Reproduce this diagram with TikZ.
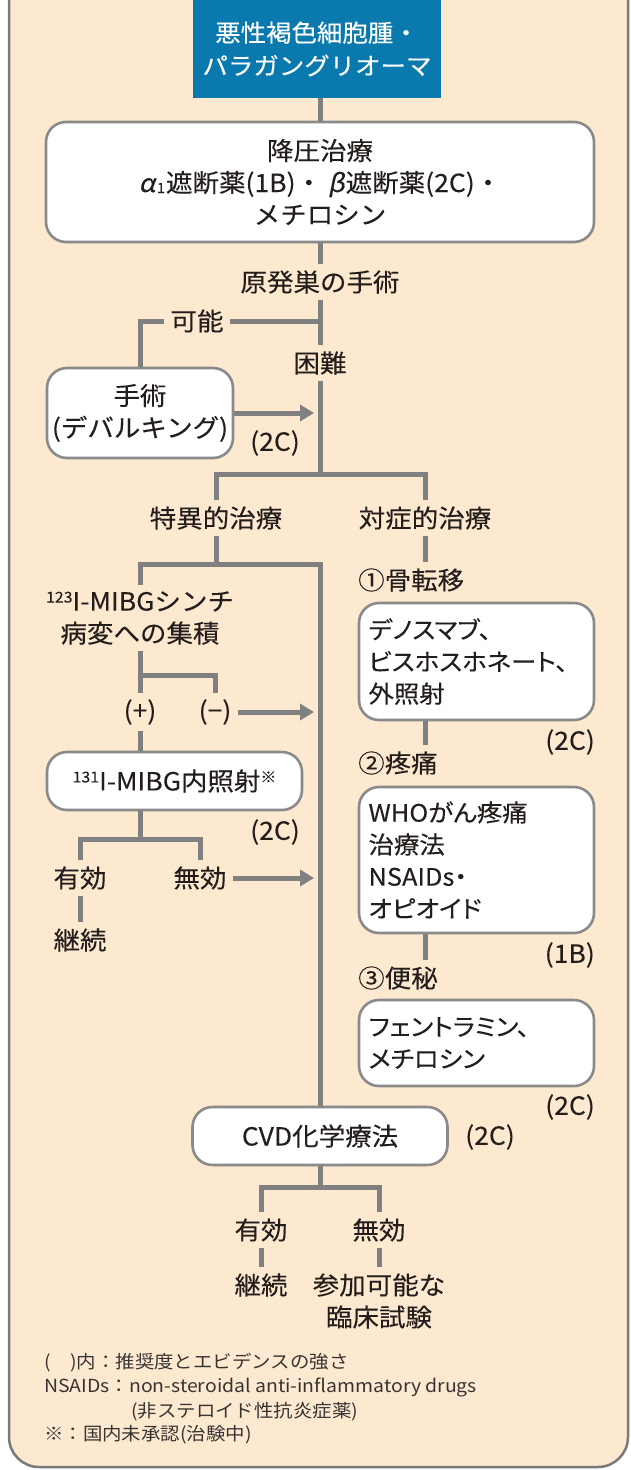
\documentclass[tikz,border=0pt]{standalone}
\usepackage{fontspec}
\setmainfont[FakeStretch=1.06,FakeBold=0.15]{Noto Sans CJK JP}
\newfontfamily\paltjp[FakeStretch=1.06,FakeBold=0.15,RawFeature=+palt]{Noto Sans CJK JP}
\newfontfamily\grkjp[FakeStretch=1.06,FakeBold=0.15,FakeSlant=0.2]{Noto Sans CJK JP}
\newfontfamily\notejp[FakeStretch=1.08]{Noto Sans CJK JP}
\usetikzlibrary{arrows.meta}
\definecolor{bg}{RGB}{253,233,208}
\definecolor{hdr}{RGB}{10,122,174}
\definecolor{ln}{RGB}{128,128,128}
\definecolor{bx}{RGB}{138,138,138}
\definecolor{frm}{RGB}{122,122,122}
\definecolor{tx}{RGB}{35,30,28}
\definecolor{ntx}{RGB}{55,52,50}
\newcommand{\supx}[1]{\raisebox{8pt}{\fontsize{15}{15}\selectfont #1}}
\begin{document}
\begin{tikzpicture}[x=1pt,y=-1pt,
  lbl/.style={text=tx,font=\fontsize{25}{32}\selectfont,inner sep=6pt},
  rbox/.style={draw=bx,line width=2.6pt,fill=white,rounded corners=20pt,text=tx,
    font=\fontsize{25}{32}\selectfont,align=center,inner sep=4pt},
  lbox/.style={rbox,align=left,font=\paltjp\fontsize{24}{32}\selectfont,
    text width=216pt,inner xsep=9.5pt,minimum width=235pt},
  conn/.style={draw=ln,line width=5pt},
  arr/.style={conn,-{Triangle[length=14pt,width=16pt]},shorten >=6pt},
  note/.style={text=ntx,font=\notejp\fontsize{18}{22}\selectfont,anchor=west,inner sep=0pt}]
\useasboundingbox (0,0) rectangle (631,1470);
\draw[fill=bg,draw=frm,line width=2.5pt,rounded corners=30pt] (9,-20) -- (9,1467) -- (628,1467) -- (628,-20);

% nodes
\node[fill=hdr,minimum width=248pt,minimum height=98pt,text=white,align=center,
  font=\fontsize{24}{33}\selectfont,inner sep=0pt] (hdr) at (317,49) {悪性褐色細胞腫・\\パラガングリオーマ};
\node[rbox,minimum width=548pt,minimum height=120pt] (b1) at (320,182)
  {降圧治療\\{\grkjp α}\kern1.5pt\raisebox{-1pt}{\fontsize{14}{14}\selectfont 1}\kern1pt 遮断薬(1B)・ {\grkjp β}\kern1pt 遮断薬(2C)・\\メチロシン};
\node[lbl] (gen) at (320,282) {原発巣の手術};
\node[lbl] (kanou) at (197,321) {可能};
\node[lbl] (konnan) at (320,363) {困難};
\node[rbox,minimum width=186pt,minimum height=90pt] (surg) at (140,413) {手術\\(デバルキング)};
\node[lbl] (c1) at (275,443) {(2C)};
\node[lbl] (tokui) at (216,518) {特異的治療};
\node[lbl] (taisho) at (425,518) {対症的治療};
\node[lbl,align=center] (mibg) at (140,618) {\supx{123}I-MIBGシンチ\\病変への集積};
\node[lbl] (plus) at (140,712) {(+)};
\node[lbl] (minus) at (215,712) {(−)};
\node[rbox,minimum width=255pt,minimum height=58pt] (rt) at (174.5,781) {\supx{131}I-MIBG内照射\supx{※}};
\node[lbl] (c2) at (275,832) {(2C)};
\node[lbl] (yuko1) at (80,878) {有効};
\node[lbl] (muko1) at (200,878) {無効};
\node[lbl] (kei1) at (80,940) {継続};

\node[lbl,anchor=west] (bone) at (352,580) {①骨転移};
\node[lbox,minimum height=117pt] (bbox) at (476.5,661.5) {デノスマブ、\\ビスホスホネート、\\外照射};
\node[lbl,anchor=east] (c3) at (601,742) {(2C)};
\node[lbl,anchor=west] (pain) at (352,763) {②疼痛};
\node[lbox,minimum height=146pt] (who) at (476.5,860) {WHOがん疼痛\\治療法\\NSAIDs・\\オピオイド};
\node[lbl,anchor=east] (c4) at (601,955) {(1B)};
\node[lbl,anchor=west] (const) at (352,978) {③便秘};
\node[lbox,minimum height=86pt] (fent) at (476.5,1043) {フェントラミン、\\メチロシン};
\node[lbl,anchor=east] (c5) at (601,1107) {(2C)};

\node[rbox,minimum width=255pt,minimum height=58pt] (cvd) at (320,1136) {CVD化学療法};
\node[lbl] (c6) at (490,1137) {(2C)};
\node[lbl] (yuko2) at (261,1230) {有効};
\node[lbl] (muko2) at (379,1230) {無効};
\node[lbl] (kei2) at (261,1285) {継続};
\node[lbl,align=center] (sanka) at (379,1301) {参加可能な\\臨床試験};

\node[note] (n1) at (44,1363) {(　)内：推奨度とエビデンスの強さ};
\node[note] (n2) at (44,1387) {NSAIDs：non-steroidal anti-inflammatory drugs};
\node[note] (n3) at (131,1412) {(非ステロイド性抗炎症薬)};
\node[note] (n4) at (44,1435) {※：国内未承認(治験中)};

% connectors
\draw[conn] (b1.north |- hdr.south) -- (b1.north);
\draw[conn] (b1.south) -- (gen.north);
\draw[conn] (gen.south) -- (konnan.north);
\draw[conn] (kanou.east) -- (kanou.east -| konnan.north);
\draw[conn] (kanou.west) -| (surg.north);
\draw[arr] (surg.east) -- (surg.east -| konnan.north);
\coordinate (j1) at (320,474);
\draw[conn] (konnan.south) -- (j1);
\draw[conn] (tokui.north) |- (j1) -| (taisho.north);
\coordinate (j2) at (216,564);
\draw[conn] (tokui.south) -- (j2);
\draw[conn] (mibg.north) |- (cvd.north |- j2) -- (cvd.north);
\coordinate (j3) at (140,675);
\draw[conn] (mibg.south) -- (plus.north);
\draw[conn] (j3) -| (minus.north);
\draw[arr] (minus.east) -- (minus.east -| cvd.north);
\draw[conn] (plus.south) -- (plus.south |- rt.north);
\coordinate (j4) at (140,839);
\draw[conn] (plus.south |- rt.south) -- (j4);
\draw[conn] (yuko1.north) |- (j4) -| (muko1.north);
\draw[arr] (muko1.east) -- (muko1.east -| cvd.north);
\draw[conn] (yuko1.south) -- (kei1.north);
\draw[conn] (taisho.south) -- (taisho.south |- bone.north);
\draw[conn] (taisho.south |- bbox.south) -- (taisho.south |- pain.north);
\draw[conn] (taisho.south |- who.south) -- (taisho.south |- const.north);
\coordinate (j5) at (320,1187);
\draw[conn] (cvd.south) -- (j5);
\draw[conn] (yuko2.north) |- (j5) -| (muko2.north);
\draw[conn] (yuko2.south) -- (kei2.north);
\draw[conn] (muko2.south) -- (sanka.north);
\end{tikzpicture}
\end{document}
